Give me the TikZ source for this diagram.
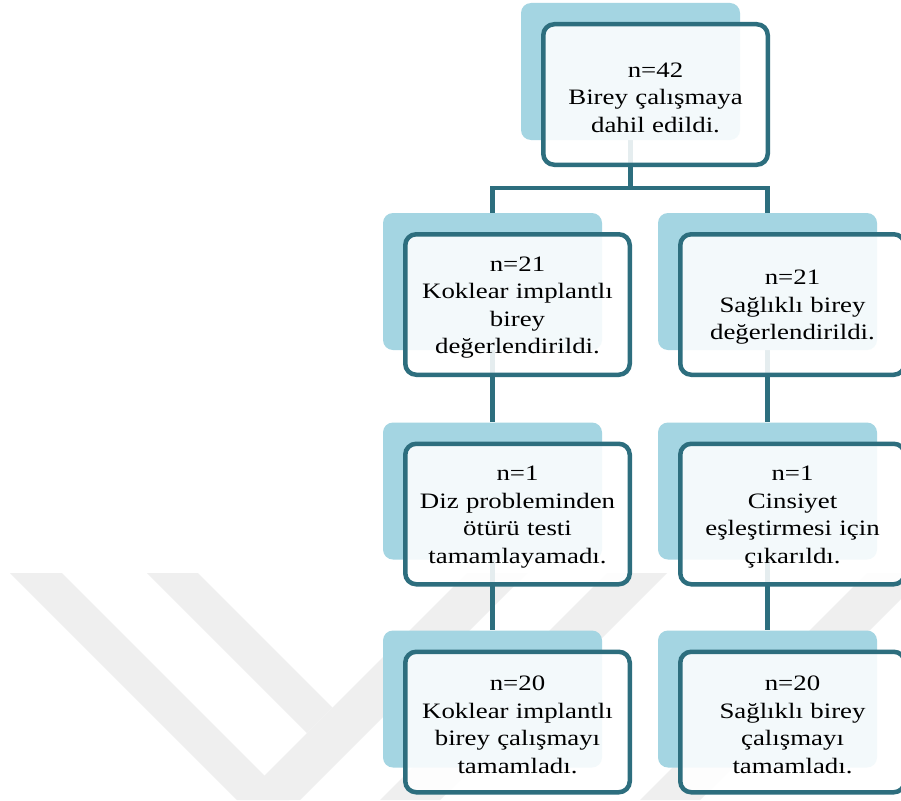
\documentclass[tikz,border=0pt]{standalone}
\usepackage{fontspec}
\setmainfont{Liberation Serif}[FakeStretch=1.22]
\definecolor{tealline}{RGB}{45,110,126}
\definecolor{backblue}{RGB}{164,213,226}
\definecolor{wmgray}{RGB}{239,239,239}
\pgfdeclarelayer{wmlayer}
\pgfdeclarelayer{background}
\pgfsetlayers{wmlayer,background,main}
\begin{document}
\begin{tikzpicture}[x=1pt,y=-1pt,
  backbox/.style={fill=backblue, rounded corners=10pt, minimum width=219pt, minimum height=137pt, inner sep=0pt},
  frontbox/.style={draw=tealline, line width=4.5pt, fill=white, fill opacity=0.88, rounded corners=11pt, minimum width=224.5pt, minimum height=140.5pt, inner sep=0pt},
  txt/.style={text width=222pt, align=center, font=\fontsize{22}{27.5}\selectfont, inner sep=0pt, yshift=-3pt},
  conn/.style={draw=tealline, line width=4.5pt},
  wmark/.style={fill=wmgray}]
\clip (0,0) rectangle (901,800);
\begin{pgfonlayer}{wmlayer}
  \fill[white] (0,0) rectangle (901,800);
  \fill[wmark] (10,573) -- (62,573) -- (289,800) -- (237,800) -- cycle;
  \fill[wmark] (147,573) -- (198,573) -- (332.5,707.5) -- (307,733) -- cycle;
  \fill[wmark] (240,800) -- (300,800) -- (527,573) -- (467,573) -- cycle;
  \fill[wmark] (380,800) -- (440,800) -- (667,573) -- (607,573) -- cycle;
  \fill[wmark] (640,800) -- (700,800) -- (927,573) -- (867,573) -- cycle;
\end{pgfonlayer}

% back rectangles
\node[backbox] (b1) at (630.5,71.5) {};
\node[backbox] (b2) at (492.5,281.5) {};
\node[backbox] (b3) at (767.5,281.5) {};
\node[backbox] (b4) at (492.5,491) {};
\node[backbox] (b5) at (767.5,491) {};
\node[backbox] (b6) at (492.5,699) {};
\node[backbox] (b7) at (767.5,699) {};

% front boxes
\node[frontbox] (f1) at (655.5,94.5) {};
\node[frontbox] (f2) at (517.5,304.5) {};
\node[frontbox] (f3) at (792.5,304.5) {};
\node[frontbox] (f4) at (517.5,514) {};
\node[frontbox] (f5) at (792.5,514) {};
\node[frontbox] (f6) at (517.5,722) {};
\node[frontbox] (f7) at (792.5,722) {};

% texts
\node[txt] (t1) at (f1) {n=42\\Birey çalışmaya\\dahil edildi.};
\node[txt] (t2) at (f2) {n=21\\Koklear implantlı\\birey\\değerlendirildi.};
\node[txt] (t3) at (f3) {n=21\\Sağlıklı birey\\değerlendirildi.};
\node[txt] (t4) at (f4) {n=1\\Diz probleminden\\ötürü testi\\tamamlayamadı.};
\node[txt] (t5) at (f5) {n=1\\Cinsiyet\\eşleştirmesi için\\çıkarıldı.};
\node[txt] (t6) at (f6) {n=20\\Koklear implantlı\\birey çalışmayı\\tamamladı.};
\node[txt] (t7) at (f7) {n=20\\Sağlıklı birey\\çalışmayı\\tamamladı.};

% connectors
\coordinate (jn) at (630.5,188);
\begin{pgfonlayer}{background}
  \draw[conn] (b1.south) -- (jn);
  \draw[conn] (b2.north) |- (jn) -| (b3.north);
  \draw[conn] (b2.south) -- (b4.north);
  \draw[conn] (b4.south) -- (b6.north);
  \draw[conn] (b3.south) -- (b5.north);
  \draw[conn] (b5.south) -- (b7.north);
\end{pgfonlayer}
\end{tikzpicture}
\end{document}
